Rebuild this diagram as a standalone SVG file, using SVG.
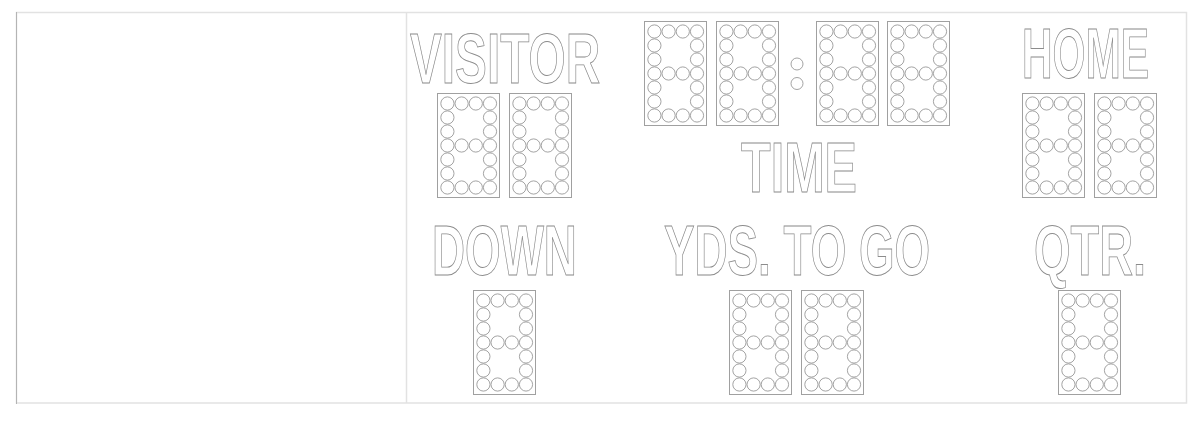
<svg xmlns="http://www.w3.org/2000/svg" xmlns:xlink="http://www.w3.org/1999/xlink" width="1200" height="422" viewBox="0 0 1200 422">
<style>
.lbl{font-family:"Liberation Sans",Arial,sans-serif;font-weight:bold;font-size:70px;fill:#fff;stroke:#8c8c8c;stroke-width:0.8px;vector-effect:non-scaling-stroke}
.pan{fill:#fff;stroke:#a0a0a0;stroke-width:1}
.dot{fill:#fff;stroke:#8c8c8c;stroke-width:0.8}
</style>
<defs>
<g id="digit">
<rect class="pan" x="0.5" y="0.5" width="62" height="104"/>
<g class="dot">
<circle cx="10.4" cy="10.5" r="6.6"/><circle cx="24.6" cy="10.5" r="6.6"/><circle cx="38.8" cy="10.5" r="6.6"/><circle cx="53" cy="10.5" r="6.6"/>
<circle cx="10.4" cy="24.5" r="6.6"/><circle cx="53" cy="24.5" r="6.6"/>
<circle cx="10.4" cy="38.5" r="6.6"/><circle cx="53" cy="38.5" r="6.6"/>
<circle cx="10.4" cy="52.5" r="6.6"/><circle cx="24.6" cy="52.5" r="6.6"/><circle cx="38.8" cy="52.5" r="6.6"/><circle cx="53" cy="52.5" r="6.6"/>
<circle cx="10.4" cy="66.5" r="6.6"/><circle cx="53" cy="66.5" r="6.6"/>
<circle cx="10.4" cy="80.5" r="6.6"/><circle cx="53" cy="80.5" r="6.6"/>
<circle cx="10.4" cy="94.5" r="6.6"/><circle cx="24.6" cy="94.5" r="6.6"/><circle cx="38.8" cy="94.5" r="6.6"/><circle cx="53" cy="94.5" r="6.6"/>
</g>
</g>
</defs>
<rect width="1200" height="422" fill="#fff"/>
<g id="frame">
<rect x="16.5" y="12.5" width="1170" height="390.5" fill="none" stroke="#e2e2e2" stroke-width="1.5"/>
<line x1="16.5" y1="12" x2="16.5" y2="404" stroke="#b4b4b4" stroke-width="1"/>
<line x1="406.5" y1="12" x2="406.5" y2="403" stroke="#e2e2e2" stroke-width="1.5"/>
</g>
<g id="visitor">
<text class="lbl" transform="translate(410 83) scale(0.682 1)">VISITOR</text>
<use xlink:href="#digit" href="#digit" x="437" y="93"/>
<use xlink:href="#digit" href="#digit" x="509" y="93"/>
</g>
<g id="time">
<use xlink:href="#digit" href="#digit" x="644" y="21"/>
<use xlink:href="#digit" href="#digit" x="716" y="21"/>
<circle class="dot" cx="797" cy="64" r="6"/>
<circle class="dot" cx="797" cy="83.5" r="6"/>
<use xlink:href="#digit" href="#digit" x="816" y="21"/>
<use xlink:href="#digit" href="#digit" x="887" y="21"/>
<text class="lbl" transform="translate(741 192) scale(0.694 1)">TIME</text>
</g>
<g id="home">
<text class="lbl" transform="translate(1022 78) scale(0.605 1)">HOME</text>
<use xlink:href="#digit" href="#digit" x="1022" y="93"/>
<use xlink:href="#digit" href="#digit" x="1094" y="93"/>
</g>
<g id="down">
<text class="lbl" transform="translate(432 275) scale(0.654 1)">DOWN</text>
<use xlink:href="#digit" href="#digit" x="473" y="290"/>
</g>
<g id="yds">
<text class="lbl" transform="translate(664 275) scale(0.654 1)">YDS. TO GO</text>
<use xlink:href="#digit" href="#digit" x="729" y="290"/>
<use xlink:href="#digit" href="#digit" x="801" y="290"/>
</g>
<g id="qtr">
<text class="lbl" transform="translate(1034 275) scale(0.67 1)">QTR.</text>
<use xlink:href="#digit" href="#digit" x="1058" y="290"/>
</g>
</svg>
